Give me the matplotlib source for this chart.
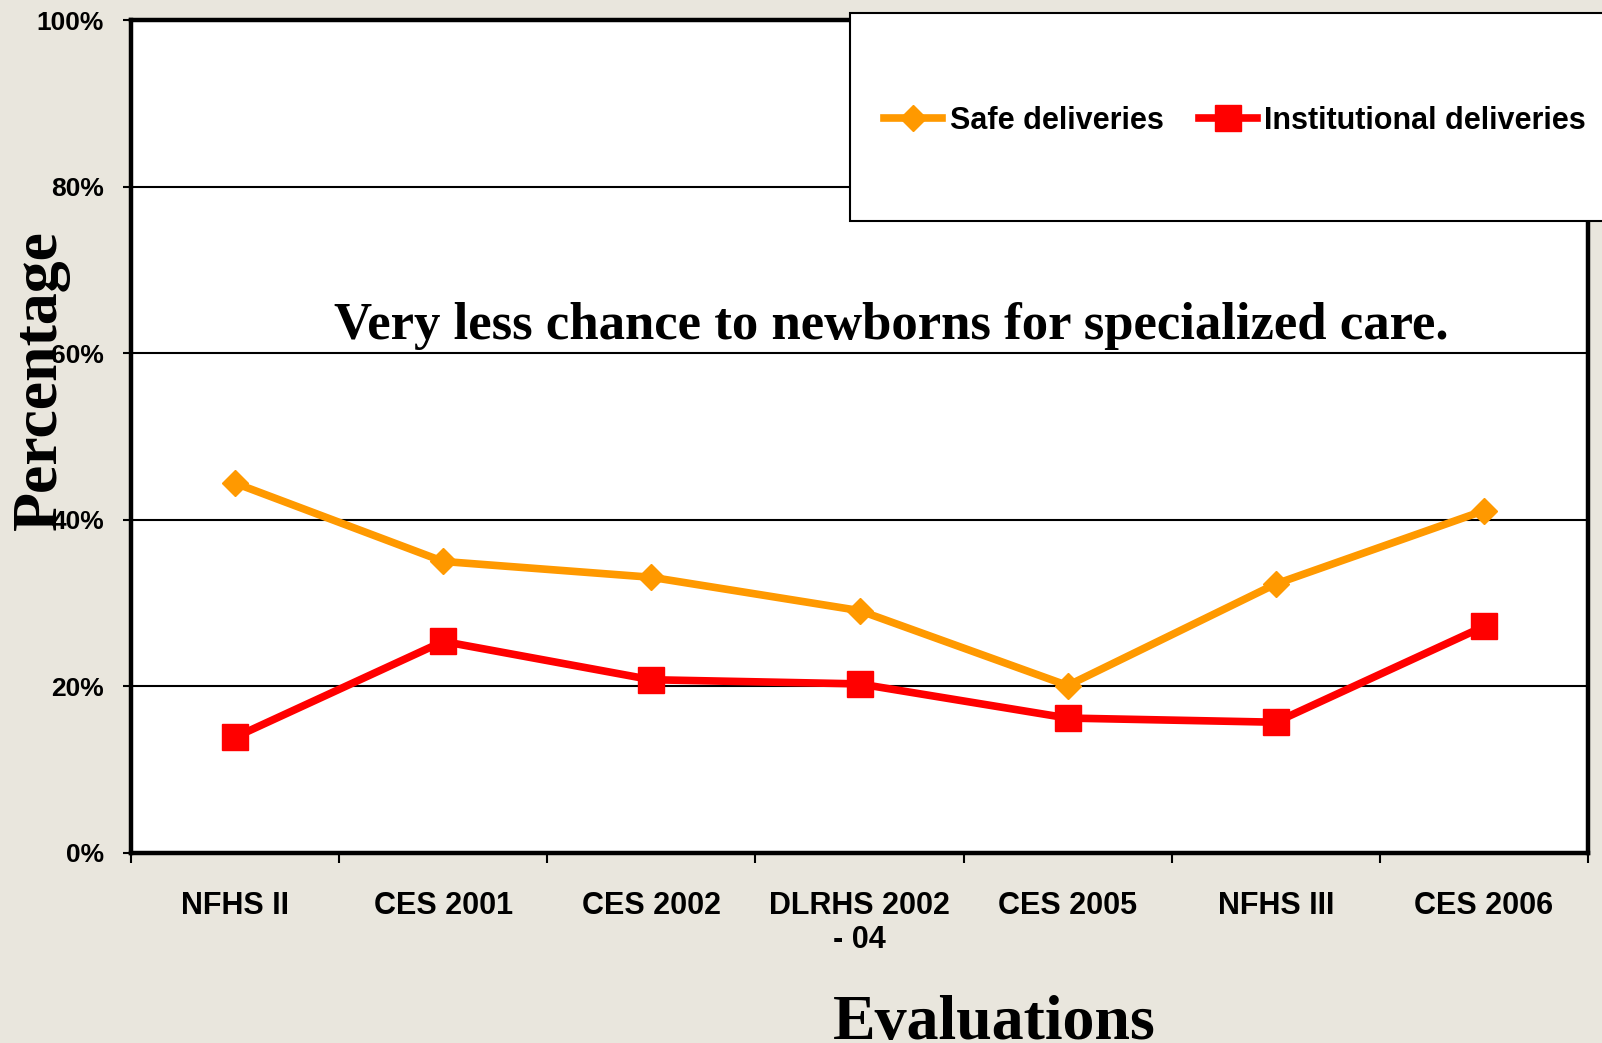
import matplotlib
matplotlib.use('Agg')
import matplotlib.pyplot as plt
from matplotlib.patches import Rectangle

# data
categories = ['NFHS II', 'CES 2001', 'CES 2002', 'DLRHS 2002\n- 04', 'CES 2005', 'NFHS III', 'CES 2006']
safe = [44.4, 35.0, 33.1, 29.1, 20.1, 32.3, 41.1]
institutional = [13.9, 25.4, 20.8, 20.3, 16.2, 15.7, 27.2]
yticks = [0, 20, 40, 60, 80, 100]
ytick_labels = ['0%', '20%', '40%', '60%', '80%', '100%']

W, H = 1602, 1043
fig = plt.figure(figsize=(W/100, H/100), dpi=100)
fig.patch.set_facecolor('#e9e6dd')

ax = fig.add_axes([131/W, 1-853/H, (1588-131)/W, (853-20)/H])
ax.set_facecolor('white')

x = list(range(len(categories)))
ax.plot(x, safe, color='#ff9900', lw=5.5, marker='D', ms=13.5, label='Safe deliveries', zorder=3)
ax.plot(x, institutional, color='#ff0000', lw=5.5, marker='s', ms=19, label='Institutional deliveries', zorder=3)

ax.set_xlim(-0.5, len(categories) - 0.5)
ax.set_ylim(0, 100)
ax.set_yticks(yticks)
ax.set_yticklabels(ytick_labels, fontfamily='Liberation Sans', fontweight='bold', fontsize=19)
ax.yaxis.grid(True, color='black', lw=1.5)
ax.set_axisbelow(True)

# category ticks sit on the boundaries, labels in the middle
ax.set_xticks([i - 0.5 for i in range(len(categories) + 1)])
ax.set_xticklabels([])
ax.set_xticks(x, minor=True)
ax.set_xticklabels(categories, minor=True, fontfamily='Liberation Sans', fontweight='bold',
                   fontsize=22, linespacing=1.2)
ax.tick_params(axis='x', which='major', direction='out', length=7, width=1.5)
ax.tick_params(axis='x', which='minor', length=0, pad=27)
ax.tick_params(axis='y', direction='out', length=5.5, width=1.5, pad=14)

for s in ax.spines.values():
    s.set_linewidth(3.2)
    s.set_color('black')

fig.text(891/W, 1-326/H, 'Very less chance to newborns for specialized care.',
         ha='center', va='center', fontfamily='Liberation Serif', fontweight='bold', fontsize=38)
fig.text(41/W, 1-380/H, 'Percentage', rotation=90, ha='center', va='center',
         fontfamily='Liberation Serif', fontweight='bold', fontsize=46)
fig.text(994/W, 1-1039/H, 'Evaluations', ha='center', va='baseline',
         fontfamily='Liberation Serif', fontweight='bold', fontsize=46)

# legend box hangs off the right edge
fig.add_artist(Rectangle((850/W, 1-221/H), 800/W, 208/H, transform=fig.transFigure,
                         facecolor='white', edgecolor='black', lw=1.5, zorder=5))
fig.legend(loc='center left', bbox_to_anchor=(884/W, 1-121/H), ncol=2, frameon=False,
           borderpad=0, borderaxespad=0, handlelength=1.9, handletextpad=0.25, columnspacing=1.15,
           prop={'family': 'Liberation Sans', 'weight': 'bold', 'size': 22}).set_zorder(6)

fig.savefig('out.png', dpi=100, facecolor=fig.get_facecolor())
